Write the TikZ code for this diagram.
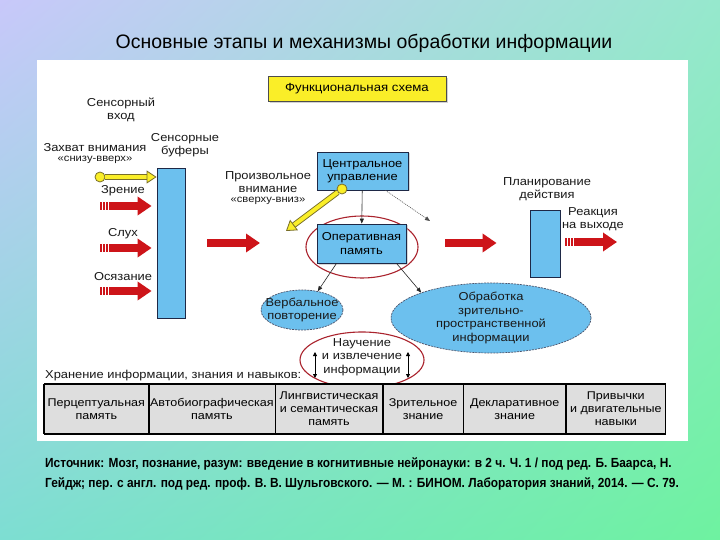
\documentclass[tikz,border=0pt]{standalone}
\usepackage{fontspec}
\setmainfont{Liberation Sans}
\newfontfamily\widefont[FakeStretch=1.12]{Liberation Sans}
\newfontfamily\narrowfont[FakeStretch=0.9]{Liberation Sans}
\usepackage{tikz}
\usetikzlibrary{arrows.meta,shapes.geometric,positioning,calc,shadows,shadings}

\definecolor{skyb}{RGB}{108,192,238}
\definecolor{navyline}{RGB}{30,40,70}
\definecolor{ringred}{RGB}{170,35,45}
\definecolor{arrred}{RGB}{205,20,25}
\definecolor{yelfill}{RGB}{250,238,40}
\definecolor{yeledge}{RGB}{120,110,40}
\definecolor{cellgray}{RGB}{222,222,222}
\definecolor{bgTL}{RGB}{200,200,250}
\definecolor{bgTR}{RGB}{150,232,205}
\definecolor{bgBL}{RGB}{125,222,210}
\definecolor{bgBR}{RGB}{110,242,160}

\begin{document}
\begin{tikzpicture}[
  x=1pt, y=-1pt,
  lbl/.style={font=\widefont\fontsize{11.5}{13.5}\selectfont, align=center, inner sep=0pt, text=black!90},
  quote/.style={font=\widefont\fontsize{10}{13.5}\selectfont, inner sep=0pt, text=black!90},
  bluebox/.style={rectangle, draw=navyline, line width=0.8pt, fill=skyb, inner sep=0pt, align=center, font=\widefont\fontsize{11.5}{13.5}\selectfont, drop shadow={shadow xshift=1.5pt, shadow yshift=-1.5pt, fill=gray!60}},
  bar/.style={rectangle, draw=navyline, line width=0.8pt, fill=skyb, inner sep=0pt},
  blob/.style={ellipse, fill=skyb, draw=navyline!80, line width=0.7pt, dash pattern=on 2pt off 1pt, inner sep=0pt},
  ring/.style={ellipse, draw=ringred, line width=1.1pt, inner sep=0pt},
  fatarr/.style={draw=arrred, line width=8.5pt, -{Triangle[length=14pt, width=18pt, fill=arrred]}},
  stripes/.style={draw=white, line width=9pt, dash pattern=on 1pt off 2pt, dash phase=1pt},
  yarr/.style={draw=yelfill, line width=4pt, -{Triangle[length=10pt, width=13pt, fill=yelfill, color=yeledge, line width=0.8pt]}, preaction={draw=yeledge, line width=5.8pt, -, shorten >=7pt}},
  ydot/.style={circle, fill=yelfill, draw=yeledge, line width=0.8pt, minimum size=10pt, inner sep=0pt},
  thin/.style={-{Triangle[length=5pt, width=4pt]}, line width=0.6pt, draw=black!85},
  dbl/.style={{Triangle[length=4pt, width=4pt]}-{Triangle[length=4pt, width=4pt]}, line width=0.8pt},
  cell/.style={rectangle, fill=cellgray, draw=black, line width=0.6pt, minimum height=49pt, inner sep=0pt, align=center, font=\widefont\fontsize{11.2}{13}\selectfont}
]
\useasboundingbox (0,0) rectangle (720,540);
\shade[upper left=bgTL, upper right=bgTR, lower left=bgBL, lower right=bgBR] (0,0) rectangle (720,540);
\fill[white] (37,60) rectangle (688,441);

% title and heading box
\node[font=\fontsize{19.5}{21}\selectfont] (title) at (364,43) {Основные этапы и механизмы обработки информации};
\node[rectangle, draw=black!70, fill=yelfill, minimum width=178pt, minimum height=25pt, font=\widefont\fontsize{11.8}{13}\selectfont, drop shadow={shadow xshift=2pt, shadow yshift=-2pt, fill=gray!70}] (scheme) at (357,88.5) {Функциональная схема};

% sensory input
\node[lbl] (sensin) at (121,110) {Сенсорный\\вход};
\node[lbl] (captxt) at (95,148) {Захват внимания};
\node[quote, below=4pt of captxt] {«снизу-вверх»};
\node[lbl] (buftxt) at (185,145) {Сенсорные\\буферы};
\node[bar, minimum width=28pt, minimum height=150pt] (buffer) at (171,243) {};

\node[ydot] (capdot) at (100,177) {};
\draw[yarr] (capdot) -- (capdot -| buffer.west);

\node[lbl] (zrtxt) at (123,191) {Зрение};
\node[lbl] (sltxt) at (123,234) {Слух};
\node[lbl] (ostxt) at (123,277) {Осязание};
\coordinate (zrT) at (100,206);
\coordinate (slT) at (100,248);
\coordinate (osT) at (100,291);
\foreach \t in {zrT,slT,osT}{
  \draw[fatarr, shorten >=5pt] (\t) -- (\t -| buffer.west);
  \draw[stripes] (\t) -- ++(9,0);
}

% central part
\node[lbl] (voltxt) at (268,182) {Произвольное\\внимание};
\node[quote, below=4pt of voltxt] {«сверху-вниз»};
\coordinate (midB) at (260,243);
\draw[fatarr, shorten <=22pt] (buffer.east |- midB) -- (midB);

\node[bluebox, minimum width=91pt, minimum height=38pt] (central) at (362.5,171) {Центральное\\управление};
\node[ring, minimum width=112pt, minimum height=62pt] (wmring) at (362,247) {};
\node[bluebox, minimum width=89pt, minimum height=39pt] (wm) at (361.5,243.5) {Оперативная\\память};
\draw[thin] (central) -- (wm);
\coordinate (plannext) at (430,221);
\draw[thin, dash pattern=on 1pt off 1pt, draw=black!70] ([xshift=23pt]central.south) -- (plannext);

\node[ydot] (topdot) at (342,189) {};
\coordinate (topend) at (286,231);
\draw[yarr] (topdot) -- (topend);

% processing loops
\node[blob, minimum width=82pt, minimum height=40pt] (verbal) at (302,310) {};
\node[lbl] (verbaltxt) at (verbal) {Вербальное\\повторение};
\node[blob, minimum width=200pt, minimum height=70pt] (vis) at (491,318) {};
\node[lbl] (vistxt) at (vis) {Обработка\\зрительно-\\пространственной\\информации};
\draw[thin] ([xshift=-25pt]wm.south) -- (verbal.50);
\draw[thin] ([xshift=35pt]wm.south) -- (vis.160);

% action planning
\node[lbl] (plantxt) at (547,189) {Планирование\\действия};
\node[bar, minimum width=30pt, minimum height=67pt] (plan) at (545,243.5) {};
\coordinate (midC) at (445,243);
\draw[fatarr, shorten >=33pt] (midC) -- (midC -| plan.west);
\node[lbl] (reacttxt) at (593,219) {Реакция\\на выходе};
\coordinate (outT) at (565,242);
\coordinate (outE) at (617,242);
\draw[fatarr] (outT) -- (outE);
\draw[stripes] (outT) -- ++(9,0);

% learning and retrieval
\node[lbl, anchor=west] (storetxt) at (45,376) {Хранение информации, знания и навыков:};
\node[ring, minimum width=124pt, minimum height=56pt] (learnring) at (362,360) {};
\node[lbl] (learn) at (362,357) {Научение\\и извлечение\\информации};
\coordinate (la) at (315,352); \coordinate (lb) at (315,378);
\coordinate (ra) at (408,352); \coordinate (rb) at (408,378);
\draw[dbl] (la) -- (lb);
\draw[dbl] (ra) -- (rb);

% storage table
\node[cell, minimum width=104pt, anchor=north west] (c1) at (44,384) {Перцептуальная\\память};
\node[cell, minimum width=126pt, right=0pt of c1] (c2) {Автобиографическая\\память};
\node[cell, minimum width=107pt, right=0pt of c2] (c3) {Лингвистическая\\и семантическая\\память};
\node[cell, minimum width=80pt, right=0pt of c3] (c4) {Зрительное\\знание};
\node[cell, minimum width=102pt, right=0pt of c4] (c5) {Декларативное\\знание};
\node[cell, minimum width=99pt, right=0pt of c5] (c6) {Привычки\\и двигательные\\навыки};
\draw[line width=2pt] (c1.north west) -- (c6.north east);
\draw[line width=2pt] (c1.south west) -- (c6.south east);
\draw[line width=1.2pt] (c1.north west) -- (c1.south west);
\draw[line width=1.2pt] (c6.north east) -- (c6.south east);

% source
\node[anchor=north west, align=left, inner sep=0pt, font=\narrowfont\bfseries\fontsize{13.2}{20}\selectfont] (src) at (45,457) {Источник: Мозг, познание, разум: введение в когнитивные нейронауки: в 2 ч. Ч. 1 / под ред. Б. Баарса, Н.\\Гейдж; пер. с англ. под ред. проф. В. В. Шульговского. — М. : БИНОМ. Лаборатория знаний, 2014. — С. 79.};
\end{tikzpicture}
\end{document}
